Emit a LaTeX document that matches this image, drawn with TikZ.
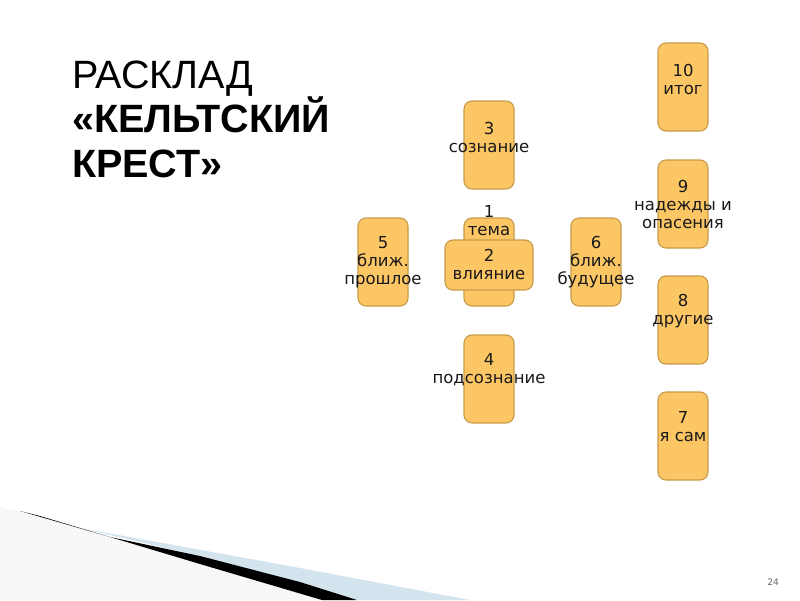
\documentclass[tikz,border=0pt]{standalone}
\usepackage{fontspec}
\setmainfont{DejaVu Sans}
\newfontfamily\titlefont{Liberation Sans}
\usetikzlibrary{patterns}
\definecolor{cardfill}{RGB}{252,198,100}
\definecolor{carddraw}{RGB}{200,155,75}
\definecolor{cardtext}{RGB}{25,25,25}
\definecolor{wedgeblue}{RGB}{212,228,238}
\tikzset{
  card/.style={draw=carddraw, line width=1.1pt, fill=cardfill, rounded corners=8pt, inner sep=0pt},
  vcard/.style={card, minimum width=50pt, minimum height=88pt},
  hcard/.style={card, minimum width=88pt, minimum height=50pt},
  cardlabel/.style={align=center, inner sep=0pt, text=cardtext, font=\fontsize{16.5}{18}\selectfont},
  titleline/.style={anchor=base west, inner sep=0pt, font=\titlefont\fontsize{39.5}{44}\selectfont},
  titlebold/.style={titleline, font=\titlefont\bfseries\fontsize{39.5}{44}\selectfont}
}
\begin{document}
\begin{tikzpicture}[x=1pt,y=-1pt]
\useasboundingbox (0,0) rectangle (800,600);
\fill[white] (0,0) rectangle (800,600);
% bottom decoration
\fill[pattern=north west lines, pattern color=gray!18] (0,507) -- (40,516) -- (200,563) -- (325,600) -- (0,600) -- cycle;
\fill[wedgeblue] (80,528) -- (300,568) -- (470,600) -- (357,600) -- (300,582) -- (200,556) -- cycle;
\fill[black] (20,511) -- (110,537) -- (200,556) -- (300,582) -- (357,600) -- (322,600) -- (200,564) -- (40,516) -- cycle;
% title
\node[titleline] (t1) at (72,88) {РАСКЛАД};
\node[titlebold] (t2) at (72,132) {«КЕЛЬТСКИЙ};
\node[titlebold] (t3) at (72,177) {КРЕСТ»};
% cards
\node[vcard] (c3) at (489,145) {};
\node[cardlabel] (l3) at (489,137) {3\\сознание};
\node[vcard] (c5) at (383,262) {};
\node[cardlabel] (l5) at (383,262) {5\\ближ.\\прошлое};
\node[vcard] (c6) at (596,262) {};
\node[cardlabel] (l6) at (596,262) {6\\ближ.\\будущее};
\node[vcard] (c1) at (489,262) {};
\node[cardlabel] (l1) at (489,221) {1\\тема};
\node[hcard] (c2) at (489,265) {};
\node[cardlabel] (l2) at (489,264) {2\\влияние};
\node[vcard] (c4) at (489,379) {};
\node[cardlabel] (l4) at (489,370) {4\\подсознание};
\node[vcard] (c10) at (683,87) {};
\node[cardlabel] (l10) at (683,79) {10\\итог};
\node[vcard] (c9) at (683,204) {};
\node[cardlabel] (l9) at (683,204) {9\\надежды и\\опасения};
\node[vcard] (c8) at (683,320) {};
\node[cardlabel] (l8) at (683,311) {8\\другие};
\node[vcard] (c7) at (683,436) {};
\node[cardlabel] (l7) at (683,427) {7\\я сам};
% page number
\node[text=gray!80!black, font=\fontsize{9}{10}\selectfont, inner sep=0pt] (pn) at (773,582) {24};
\end{tikzpicture}
\end{document}
